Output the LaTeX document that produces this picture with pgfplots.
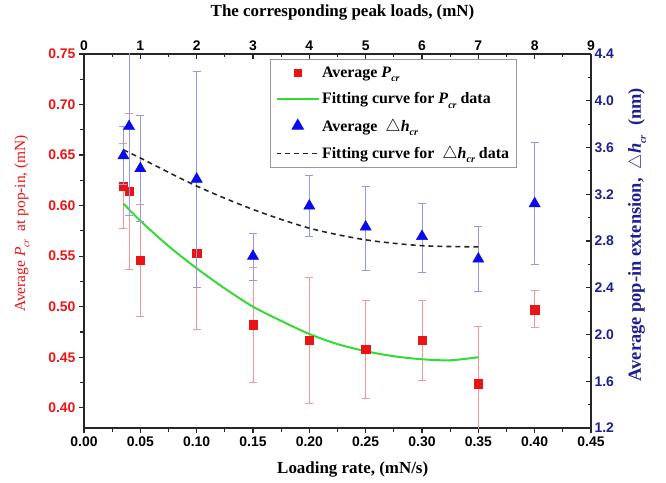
\documentclass[border=0pt]{standalone}
\usepackage{fontspec}
\setmainfont{Liberation Serif}
\setsansfont{Liberation Sans}
\usepackage{pgfplots}
\pgfplotsset{compat=1.18}
\usepackage{pgfplotstable}
\definecolor{pred}{RGB}{235,20,20}
\definecolor{pbar}{RGB}{242,150,150}
\definecolor{hblue}{RGB}{10,10,235}
\definecolor{hbar}{RGB}{150,150,235}
\definecolor{navy}{RGB}{30,30,145}
\definecolor{fitgreen}{RGB}{50,220,50}
\newcommand{\Pcr}{\textit{P}\raisebox{-0.6ex}{\fontsize{10}{10}\selectfont\textit{cr}}}
\newcommand{\hcr}{$\triangle$\textit{h}\raisebox{-0.6ex}{\fontsize{10}{10}\selectfont\textit{cr}}}

\pgfplotstableread{
x y ep em
0.035 0.619 0.042 0.042
0.040 0.614 0.077 0.077
0.050 0.546 0.055 0.056
0.100 0.553 0.072 0.076
0.150 0.482 0.057 0.057
0.200 0.467 0.062 0.063
0.250 0.458 0.048 0.049
0.300 0.467 0.039 0.040
0.350 0.424 0.056 0.056
0.400 0.497 0.019 0.018
}\pdata

\pgfplotstableread{
x y ep em
0.035 3.53 0.25 0.25
0.040 3.78 0.76 0.76
0.050 3.42 0.45 0.45
0.100 3.33 0.92 0.93
0.150 2.67 0.19 0.21
0.200 3.10 0.26 0.26
0.250 2.92 0.35 0.37
0.300 2.84 0.28 0.31
0.350 2.646 0.28 0.28
0.400 3.12 0.52 0.52
}\hdata

\pgfplotstableread{
x y
0.035 0.602
0.050 0.585
0.075 0.560
0.100 0.538
0.125 0.518
0.150 0.500
0.175 0.486
0.200 0.473
0.225 0.463
0.250 0.456
0.275 0.451
0.300 0.448
0.325 0.447
0.350 0.450
}\pfit

\pgfplotstableread{
x y
0.035 3.58
0.050 3.51
0.100 3.27
0.150 3.07
0.200 2.91
0.250 2.81
0.300 2.76
0.350 2.75
}\hfit

\pgfplotsset{
  common/.style={
    at={(0,0)}, anchor=south west, scale only axis,
    width=507bp, height=374bp,
    xmin=0, xmax=0.45,
    xtick={0,0.05,0.1,0.15,0.2,0.25,0.3,0.35,0.4,0.45},
    minor x tick num=1, minor y tick num=1,
    major tick length=5bp, minor tick length=3.5bp,
    axis line style={line width=1.5pt, black!85},
    every tick/.style={line width=1.2pt, black!85},
    ticklabel style={font=\sffamily\bfseries\fontsize{14}{14}\selectfont},
    /pgf/number format/assume math mode=true,
    clip=true,
  },
  marklegend/.style={legend image code/.code={\draw[mark repeat=2,mark phase=2,##1] plot coordinates {(0cm,0cm) (0.75cm,0cm) (1.5cm,0cm)};}},
  linelegend/.style={legend image code/.code={\draw[##1] (0cm,0cm) -- (1.5cm,0cm);}},
}

\begin{document}
\begin{tikzpicture}
\path[use as bounding box] (-84bp,-55bp) rectangle (582bp,428bp);
\begin{axis}[common,
  axis x line*=bottom, axis y line*=left,
  ymin=0.38, ymax=0.75,
  ytick={0.40,0.45,0.50,0.55,0.60,0.65,0.70,0.75},
  tick align=outside,
  x tick label style={/pgf/number format/.cd, fixed, fixed zerofill, precision=2},
  y tick label style={/pgf/number format/.cd, fixed, fixed zerofill, precision=2, /tikz/.cd, color=pred},
  xlabel={Loading rate, (mN/s)},
  ylabel={Average \Pcr\ \ at pop-in, (mN)},
  every axis x label/.style={at={(axis description cs:0.53,-0.11)}, anchor=center, font=\bfseries\fontsize{17}{17}\selectfont},
  every axis y label/.style={at={(axis description cs:-0.1223,0.547)}, rotate=90, anchor=center, font=\fontsize{15.5}{15.5}\selectfont, color=pred},
]
\addplot[only marks, mark=square*, mark size=4.2bp, color=pred,
  error bars/.cd, y dir=both, y explicit,
  error bar style={pbar, line width=1pt},
  error mark options={pbar, rotate=90, mark size=4bp, line width=1pt}]
  table[x=x, y=y, y error plus=ep, y error minus=em] {\pdata};
\addplot[fitgreen, line width=2pt, smooth] table[x=x, y=y] {\pfit};
\end{axis}
\begin{axis}[common,
  axis x line*=top, axis y line*=right,
  ymin=1.2, ymax=4.4,
  ytick={1.2,1.6,2.0,2.4,2.8,3.2,3.6,4.0,4.4},
  xticklabels={0,1,2,3,4,5,6,7,8,9},
  tick align=inside,
  y tick label style={/pgf/number format/.cd, fixed, fixed zerofill, precision=1, /tikz/.cd, color=navy},
  xlabel={The corresponding peak loads, (mN)},
  ylabel={Average pop-in extension, \ \hcr\ \ (nm)},
  every axis x label/.style={at={(axis description cs:0.51,1.112)}, anchor=center, font=\bfseries\fontsize{17}{17}\selectfont},
  every axis y label/.style={at={(axis description cs:1.0907,0.517)}, rotate=90, anchor=center, font=\bfseries\fontsize{18.5}{18.5}\selectfont, color=navy},
  legend cell align=left,
  legend style={at={(axis description cs:0.3669,0.9866)}, anchor=north west,
    draw=gray!80, line width=1pt, font=\bfseries\fontsize{16}{16}\selectfont,
    row sep=10bp, inner sep=5bp},
]
\addlegendimage{only marks, mark=square*, mark size=3.5bp, color=pred, marklegend}
\addlegendentry{Average \Pcr}
\addlegendimage{fitgreen, line width=2pt, linelegend}
\addlegendentry{Fitting curve for \Pcr\ data}
\addplot[only marks, mark=triangle*, mark size=6.5bp, color=hblue, marklegend,
  error bars/.cd, y dir=both, y explicit,
  error bar style={hbar, line width=1pt},
  error mark options={hbar, rotate=90, mark size=4bp, line width=1pt}]
  table[x=x, y=y, y error plus=ep, y error minus=em] {\hdata};
\addlegendentry{Average \ \hcr}
\addplot[black!85, dashed, dash pattern=on 5pt off 4pt, line width=1.6pt, smooth, linelegend] table[x=x, y=y] {\hfit};
\addlegendentry{Fitting curve for \ \hcr\ data}
\end{axis}
\end{tikzpicture}
\end{document}
